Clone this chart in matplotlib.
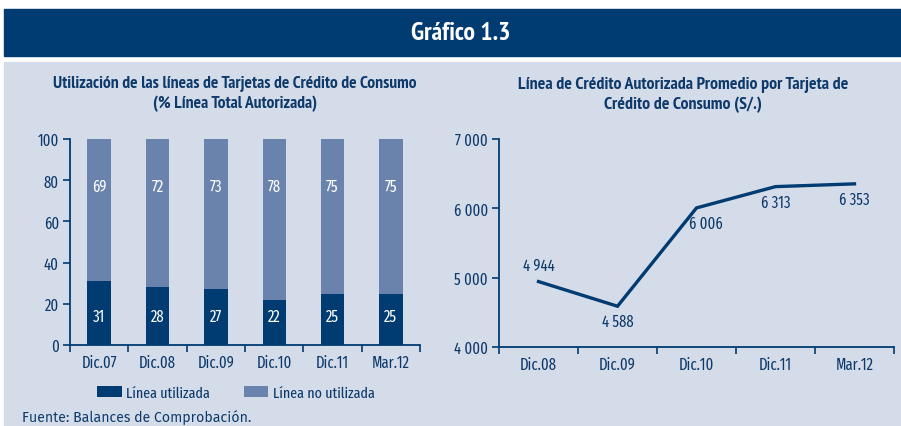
import matplotlib

matplotlib.use("Agg")
import matplotlib.pyplot as plt
from matplotlib.patches import Rectangle
from matplotlib.ticker import FuncFormatter, FixedLocator

plt.rcParams["font.family"] = ["Fira Sans Extra Condensed", "DejaVu Sans"]
TITLE_FONT = ["PT Sans Narrow", "DejaVu Sans"]

DARK = "#003B71"
LIGHT = "#6A83AD"
PANEL = "#D5DCE9"
TEXT = "#0E3A6B"

# left chart: utilisation of card lines (% of total authorised line)
bar_cats = ["Dic.07", "Dic.08", "Dic.09", "Dic.10", "Dic.11", "Mar.12"]
usada = [31, 28, 27, 22, 25, 25]
no_usada = [69, 72, 73, 78, 75, 75]

# right chart: average authorised line per card (S/.)
line_cats = ["Dic.08", "Dic.09", "Dic.10", "Dic.11", "Mar.12"]
promedio = [4944, 4588, 6006, 6313, 6353]
label_below = [False, True, True, True, True]


def thousands(v, _pos=None):
    return f"{int(round(v)):,}".replace(",", "\u2009")


def style_axes(ax):
    ax.set_facecolor("none")
    for side in ("top", "right"):
        ax.spines[side].set_visible(False)
    for side in ("left", "bottom"):
        ax.spines[side].set_color(DARK)
        ax.spines[side].set_linewidth(1.3)
    ax.tick_params(axis="y", colors=DARK, labelcolor=TEXT, labelsize=11.5,
                   length=5, width=1.2, pad=3)
    ax.tick_params(axis="x", which="major", length=0, labelcolor=TEXT,
                   labelsize=11.5, pad=7)
    ax.tick_params(axis="x", which="minor", colors=DARK, length=5, width=1.2)


fig = plt.figure(figsize=(9.01, 4.27), dpi=100)
fig.patch.set_facecolor("white")
fig.patches.append(Rectangle((4 / 901, 0), 1, 1 - 63 / 427, transform=fig.transFigure,
                             color=PANEL, zorder=-2))
fig.patches.append(Rectangle((4 / 901, 1 - 57 / 427), 1, 47 / 427,
                             transform=fig.transFigure, color=DARK, zorder=-1))
fig.text(461 / 901, 1 - 34 / 427, "Gráfico 1.3", color="white", fontsize=18.5,
         fontweight="bold", ha="center", va="center", family=TITLE_FONT)

# ---- left: stacked bars
ax1 = fig.add_axes([70 / 901, 1 - 346 / 427, 350 / 901, 206 / 427])
x1 = range(len(bar_cats))
ax1.bar(x1, usada, width=0.4, color=DARK, label="Línea utilizada")
ax1.bar(x1, no_usada, width=0.4, bottom=usada, color=LIGHT, label="Línea no utilizada")
for i in x1:
    ax1.text(i, 14, str(usada[i]), color="white", fontsize=11.5, ha="center", va="center")
    ax1.text(i, 77, str(no_usada[i]), color="white", fontsize=11.5, ha="center", va="center")
ax1.set_xlim(-0.5, len(bar_cats) - 0.5)
ax1.set_ylim(0, 100)
ax1.set_yticks(range(0, 101, 20))
ax1.set_xticks(list(x1))
ax1.set_xticklabels(bar_cats)
ax1.xaxis.set_minor_locator(FixedLocator([i - 0.5 for i in range(len(bar_cats) + 1)]))
style_axes(ax1)
fig.text(235 / 901, 1 - 94 / 427, "Utilización de las líneas de Tarjetas de Crédito de Consumo\n"
         "(% Línea Total Autorizada)", color=TEXT, fontsize=12.6, fontweight="bold",
         ha="center", va="center", linespacing=1.35, family=TITLE_FONT)
fig.legend(*ax1.get_legend_handles_labels(), loc="center", ncol=2, frameon=False,
           bbox_to_anchor=(236 / 901, 1 - 394 / 427), fontsize=11,
           labelcolor=TEXT, handlelength=1.6, handleheight=0.7, columnspacing=2.2,
           handletextpad=0.3)

# ---- right: line
ax2 = fig.add_axes([499 / 901, 1 - 348 / 427, 395 / 901, 208 / 427])
x2 = list(range(len(line_cats)))
ax2.plot(x2, promedio, color=DARK, linewidth=2.4, solid_joinstyle="miter")
for i, v in enumerate(promedio):
    dy = -11 if label_below[i] else 12
    dx = 7 if i == 2 else 0  # Dic.10 label sits right of the corner
    ax2.annotate(thousands(v), (i, v), xytext=(dx, dy), textcoords="offset points",
                 ha="center", va="center", color=TEXT, fontsize=11.5)
ax2.set_xlim(-0.5, len(line_cats) - 0.5)
ax2.set_ylim(4000, 7000)
ax2.set_yticks([4000, 5000, 6000, 7000])
ax2.yaxis.set_major_formatter(FuncFormatter(thousands))
ax2.set_xticks(x2)
ax2.set_xticklabels(line_cats)
ax2.xaxis.set_minor_locator(FixedLocator([i - 0.5 for i in range(len(line_cats) + 1)]))
style_axes(ax2)
fig.text(683 / 901, 1 - 95 / 427, "Línea de Crédito Autorizada Promedio por Tarjeta de\n"
         "Crédito de Consumo (S/.)", color=TEXT, fontsize=12.8, fontweight="bold",
         ha="center", va="center", linespacing=1.35, family=TITLE_FONT)

fig.text(22 / 901, 1 - 418 / 427, "Fuente: Balances de Comprobación.", color=TEXT,
         fontsize=10.2, family=["Fira Sans", "DejaVu Sans"], va="center")

fig.savefig("out.png", dpi=100)
